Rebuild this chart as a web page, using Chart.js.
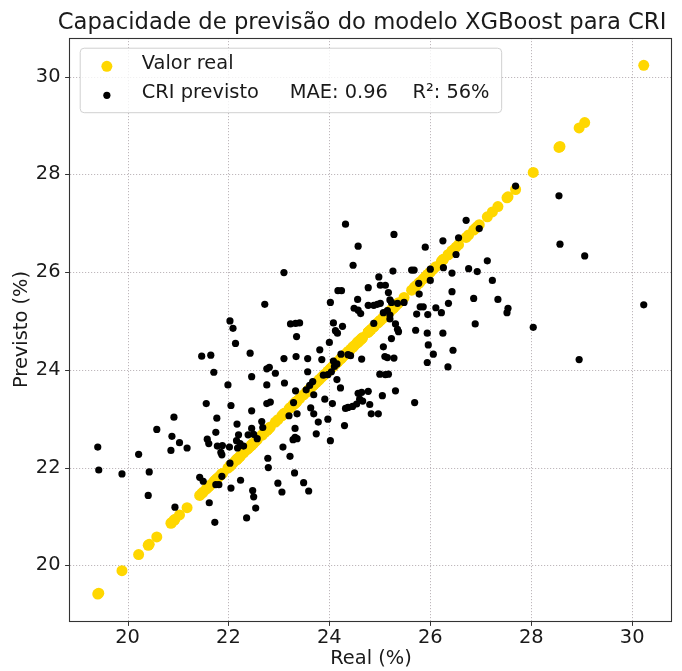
<!DOCTYPE html>
<html>
<head>
<meta charset="utf-8">
<script src="https://cdn.jsdelivr.net/npm/chart.js@4"></script>
<style>
html,body{margin:0;padding:0;background:#ffffff;}
#wrap{width:682px;height:671px;}
</style>
</head>
<body>
<div id="wrap"><canvas id="c" width="682" height="671"></canvas></div>
<script>
// ---- data ----
const realValues = [
19.41,19.43,19.89,20.22,20.43,20.41,20.58,20.92,20.88,20.86,
21.03,21.18,21.56,22.05,22.46,22.76,21.77,22.17,21.75,21.58,
21.61,21.78,21.88,21.85,21.87,22.02,22.16,22.20,22.23,22.18,
22.30,22.46,22.39,22.50,22.57,22.66,22.68,22.78,22.79,21.43,
21.50,21.87,21.75,21.81,22.24,22.05,22.48,22.50,21.62,20.94,
22.54,22.36,21.73,22.72,24.02,22.03,22.09,22.14,23.23,23.33,
23.41,23.35,24.08,24.12,24.16,24.26,24.00,23.81,21.47,21.65,
22.43,23.10,23.34,23.57,23.85,24.23,21.71,22.46,22.76,22.81,
22.93,23.11,22.76,21.99,23.57,23.67,23.54,23.33,23.69,23.91,
24.06,24.22,24.32,24.37,22.83,23.29,23.63,23.69,23.97,23.78,
23.20,23.36,23.32,23.32,23.28,23.36,23.74,24.02,24.30,23.08,
23.22,22.03,23.31,22.98,23.06,23.49,23.59,24.08,24.15,24.04,
23.97,24.15,24.32,25.28,24.57,24.47,23.10,25.26,25.63,25.68,
24.98,24.77,25.01,25.11,25.17,24.17,24.24,24.56,24.49,24.57,
24.62,24.77,24.88,24.95,25.01,25.20,25.23,25.35,25.48,25.15,
25.20,25.77,25.80,25.73,24.88,25.31,25.35,25.37,25.71,25.23,
25.07,25.10,25.15,25.28,24.64,24.42,24.37,24.10,25.00,25.11,
25.17,25.31,25.69,25.05,24.57,24.64,24.77,24.60,24.66,24.54,
24.46,24.80,24.83,24.97,23.61,23.88,27.69,28.55,28.57,26.71,
26.97,26.25,25.90,26.56,26.51,27.13,26.00,26.26,26.43,26.76,
26.93,27.23,26.00,25.78,26.43,26.86,27.34,27.54,27.52,26.36,
26.11,26.22,25.86,25.95,26.89,28.04,25.94,26.25,25.96,26.06,
26.45,25.94,26.35,25.07,25.20,29.06,30.23,28.95
];
const predValues = [
22.42,21.95,21.87,22.27,21.91,21.43,22.78,23.03,22.64,22.35,
22.51,22.40,23.31,23.27,23.16,23.31,23.01,22.89,22.72,22.58,
22.49,22.44,22.45,22.31,22.26,22.42,22.55,22.67,22.49,22.40,
22.44,22.80,22.67,22.68,22.59,22.94,22.82,22.19,22.00,21.80,
21.72,21.82,21.65,21.65,21.74,21.58,21.53,21.40,21.28,21.19,
21.17,20.97,20.88,25.34,25.38,25.00,24.85,24.54,24.94,24.95,
24.96,24.68,24.96,24.80,24.75,24.89,24.56,24.41,24.28,24.30,
24.34,24.23,24.27,24.23,24.21,24.32,23.95,23.86,24.02,24.05,
23.93,23.73,23.69,23.69,23.96,23.76,23.59,23.57,23.49,23.40,
23.31,23.63,23.21,23.23,23.34,23.33,23.22,23.10,22.99,22.93,
23.06,23.10,22.80,22.62,22.57,22.59,22.69,22.55,22.86,22.42,
22.23,22.09,21.89,21.68,21.50,21.69,21.52,24.18,24.12,23.96,
23.90,23.80,26.98,26.77,26.53,26.14,25.99,26.02,26.04,26.04,
25.90,25.68,25.73,25.73,25.58,25.62,25.62,25.44,25.26,25.22,
25.15,25.32,25.32,25.34,25.36,25.43,25.38,25.36,25.38,25.21,
25.12,25.77,25.29,25.14,24.95,24.94,24.83,24.78,24.81,24.64,
24.47,24.27,24.25,24.24,24.22,24.29,24.31,24.07,23.91,23.90,
23.91,23.57,23.33,23.47,23.52,23.54,23.56,23.40,23.36,23.30,
23.25,23.29,23.10,23.10,23.68,23.89,27.76,27.56,26.57,27.06,
26.89,26.64,26.51,26.70,26.36,26.23,26.06,26.09,25.98,26.07,
26.01,25.83,25.83,25.55,25.60,25.46,25.44,25.26,25.17,25.36,
25.27,25.17,25.29,25.13,24.94,24.87,24.75,24.75,24.51,24.32,
24.40,24.15,24.06,25.17,25.04,26.33,25.33,24.21
];
const tickValues = [20, 22, 24, 26, 28, 30];
const axisRange = [18.86, 30.79];
const titleText = 'Capacidade de previsão do modelo XGBoost para CRI';
const xAxisLabel = 'Real (%)';
const yAxisLabel = 'Previsto (%)';
const seriesNames = ['Valor real', 'CRI previsto'];
const metricLabels = ['MAE: 0.96', 'R²: 56%'];

// ---- styling ----
const FONT = '"DejaVu Sans", "Liberation Sans", sans-serif';
const FS = 19.4;
const TEXT = '#1a1a1a';
const GOLD = '#FFD700';

const decor = {
  id: 'decor',
  beforeDatasetsDraw(chart) {
    const {ctx, chartArea: a, scales} = chart;
    ctx.save();
    ctx.strokeStyle = 'rgba(170,160,165,0.75)';
    ctx.lineWidth = 1;
    ctx.setLineDash([1.2, 1.8]);
    tickValues.forEach(v => {
      const px = Math.round(scales.x.getPixelForValue(v)) + 0.5;
      ctx.beginPath(); ctx.moveTo(px, a.top); ctx.lineTo(px, a.bottom); ctx.stroke();
      const py = Math.round(scales.y.getPixelForValue(v)) + 0.5;
      ctx.beginPath(); ctx.moveTo(a.left, py); ctx.lineTo(a.right, py); ctx.stroke();
    });
    ctx.restore();
  },
  afterDatasetsDraw(chart) {
    const {ctx, chartArea: a, scales} = chart;
    ctx.save();
    // frame
    ctx.strokeStyle = '#333333';
    ctx.lineWidth = 1.1;
    ctx.setLineDash([]);
    ctx.strokeRect(Math.round(a.left) - 0.5, Math.round(a.top) + 0.5,
                   Math.round(a.right - a.left), Math.round(a.bottom - a.top));
    // tick marks
    ctx.lineWidth = 1;
    tickValues.forEach(v => {
      const px = Math.round(scales.x.getPixelForValue(v)) + 0.5;
      ctx.beginPath(); ctx.moveTo(px, a.bottom); ctx.lineTo(px, a.bottom + 4.9); ctx.stroke();
      const py = Math.round(scales.y.getPixelForValue(v)) + 0.5;
      ctx.beginPath(); ctx.moveTo(a.left - 4.9, py); ctx.lineTo(a.left, py); ctx.stroke();
    });
    // title
    ctx.fillStyle = TEXT;
    ctx.font = '22.7px ' + FONT;
    ctx.textAlign = 'center';
    ctx.textBaseline = 'alphabetic';
    ctx.fillText(titleText, (a.left + a.right) / 2 - 9, a.top - 8.8);
    // legend
    ctx.font = FS + 'px ' + FONT;
    ctx.textAlign = 'left';
    const bx = a.left + 0.5 * FS, by = a.top + 0.5 * FS;
    const label1 = seriesNames[0];
    const label2 = seriesNames[1] + '     ' + metricLabels[0] + '    ' + metricLabels[1];
    const textX = bx + 0.4 * FS + 2 * FS + 0.8 * FS;
    const tw = Math.max(ctx.measureText(label1).width, ctx.measureText(label2).width);
    const bw = (textX - bx) + tw + 0.6 * FS;
    const bh = 64.5;
    ctx.beginPath();
    ctx.roundRect(bx + 0.5, by + 0.5, bw, bh, 4);
    ctx.fillStyle = 'rgba(255,255,255,0.8)';
    ctx.fill();
    ctx.strokeStyle = '#d0d0d0';
    ctx.lineWidth = 1;
    ctx.stroke();
    const mx = bx + 0.4 * FS + FS;
    ctx.fillStyle = GOLD;
    ctx.beginPath(); ctx.arc(mx, by + 18.6, 5.5, 0, Math.PI * 2); ctx.fill();
    ctx.fillStyle = '#000';
    ctx.beginPath(); ctx.arc(mx, by + 47.6, 3.6, 0, Math.PI * 2); ctx.fill();
    ctx.fillStyle = TEXT;
    ctx.fillText(label1, textX, by + 21.3);
    ctx.fillText(label2, textX, by + 49.8);
    ctx.restore();
  }
};

const axisCommon = (label, isX) => ({
  type: 'linear',
  min: axisRange[0],
  max: axisRange[1],
  afterBuildTicks: s => { s.ticks = tickValues.map(v => ({value: v})); },
  grid: {display: false, drawTicks: false},
  border: {display: false},
  ticks: {
    color: TEXT,
    font: {family: FONT, size: FS},
    padding: isX ? 5.5 : 9.5,
    maxRotation: 0,
    autoSkip: false,
    callback: v => String(v)
  },
  title: {
    display: true,
    text: label,
    color: TEXT,
    font: {family: FONT, size: FS},
    padding: isX ? {top: 0, bottom: 0} : {top: 10, bottom: 0}
  },
  afterFit: s => { if (isX) s.height = 50; else s.width = 70; }
});

new Chart(document.getElementById('c'), {
  type: 'scatter',
  data: {
    datasets: [
      {
        label: seriesNames[0],
        data: realValues.map(v => ({x: v, y: v})),
        backgroundColor: GOLD,
        borderWidth: 0,
        pointRadius: 5.5,
        order: 1
      },
      {
        label: seriesNames[1],
        data: realValues.map((v, i) => ({x: v, y: predValues[i]})),
        backgroundColor: '#000000',
        borderWidth: 0,
        pointRadius: 3.6,
        order: 0
      }
    ]
  },
  options: {
    responsive: false,
    devicePixelRatio: 1,
    animation: false,
    events: [],
    layout: {padding: {top: 38, right: 10, left: 0, bottom: 0}},
    plugins: {legend: {display: false}, title: {display: false}, tooltip: {enabled: false}},
    scales: {
      x: axisCommon(xAxisLabel, true),
      y: axisCommon(yAxisLabel, false)
    }
  },
  plugins: [decor]
});
</script>
</body>
</html>
